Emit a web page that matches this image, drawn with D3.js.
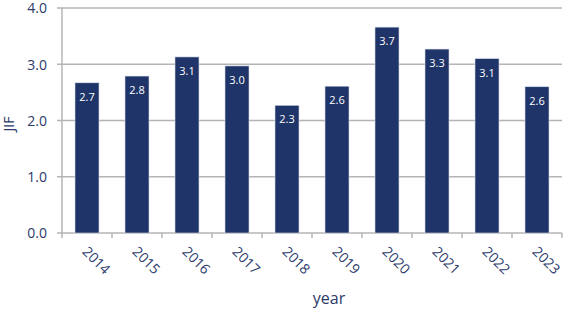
<!DOCTYPE html>
<html>
<head>
<meta charset="utf-8">
<script src="https://cdn.jsdelivr.net/npm/d3@7"></script>
<style>
  body { margin: 0; background: #fff; }
  text { font-family: "Open Sans", sans-serif; fill: #2b3a6b; }
</style>
</head>
<body>
<script>
// Chart data
let years = ["2014", "2015", "2016", "2017", "2018", "2019", "2020", "2021", "2022", "2023"];
let jif = [2.67, 2.79, 3.13, 2.97, 2.27, 2.61, 3.66, 3.27, 3.10, 2.60];
let yTicks = [0, 1, 2, 3, 4];

let width = 567, height = 311;
let margin = {top: 8, right: 5, bottom: 78, left: 62};

let svg = d3.select("body").append("svg")
    .attr("width", width)
    .attr("height", height);

// Scales
let xScale = d3.scaleBand()
    .domain(years)
    .range([margin.left, width - margin.right])
    .paddingInner(0.52)
    .paddingOuter(0.26);
let yScale = d3.scaleLinear()
    .domain([0, 4])
    .range([height - margin.bottom, margin.top]);

let gridColor = "#b4b4b4";

// Horizontal grid lines (with little ticks on the left)
svg.append("g")
  .selectAll("line")
  .data(yTicks)
  .join("line")
    .attr("x1", margin.left - 5)
    .attr("x2", width - margin.right)
    .attr("y1", d => yScale(d))
    .attr("y2", d => yScale(d))
    .attr("stroke", gridColor)
    .attr("stroke-width", 1.5);

// Y axis line
svg.append("line")
    .attr("x1", margin.left).attr("x2", margin.left)
    .attr("y1", yScale(4)).attr("y2", yScale(0))
    .attr("stroke", gridColor)
    .attr("stroke-width", 1.5);

// X axis ticks at band boundaries
let step = xScale.step();
let edges = d3.range(years.length + 1).map(i => margin.left + i * step);
svg.append("g")
  .selectAll("line")
  .data(edges)
  .join("line")
    .attr("x1", d => d).attr("x2", d => d)
    .attr("y1", yScale(0)).attr("y2", yScale(0) + 5)
    .attr("stroke", gridColor)
    .attr("stroke-width", 1.5);

// Y tick labels
svg.append("g")
  .selectAll("text")
  .data(yTicks)
  .join("text")
    .attr("x", margin.left - 15)
    .attr("y", d => yScale(d))
    .attr("dy", "0.38em")
    .attr("text-anchor", "end")
    .style("font-size", "14px")
    .text(d => d.toFixed(1));

// Bars
svg.append("g")
  .selectAll("rect")
  .data(jif)
  .join("rect")
    .attr("x", (d, i) => xScale(years[i]))
    .attr("y", d => yScale(d))
    .attr("width", xScale.bandwidth())
    .attr("height", d => yScale(0) - yScale(d))
    .attr("fill", "#1f3468")
    .attr("stroke", "#d6dbe8")
    .attr("stroke-width", 0.6);

// Value labels inside the bars
svg.append("g")
  .selectAll("text")
  .data(jif)
  .join("text")
    .attr("x", (d, i) => xScale(years[i]) + xScale.bandwidth() / 2)
    .attr("y", d => yScale(d) + 18)
    .attr("text-anchor", "middle")
    .style("font-size", "11px")
    .style("fill", "#ffffff")
    .text(d => d.toFixed(1));

// Rotated year labels
svg.append("g")
  .selectAll("text")
  .data(years)
  .join("text")
    .attr("transform", d => "translate(" + (xScale(d) + xScale.bandwidth() / 2 - 2) + "," + (yScale(0) + 16) + ")rotate(45)")
    .attr("dy", "0.35em")
    .style("font-size", "14px")
    .text(d => d);

// Axis titles
svg.append("text")
    .attr("x", 329)
    .attr("y", 304)
    .attr("text-anchor", "middle")
    .style("font-size", "16px")
    .text("year");

svg.append("text")
    .attr("text-anchor", "middle")
    .attr("transform", "translate(14,124)rotate(-90)")
    .style("font-size", "14px")
    .text("JIF");
</script>
</body>
</html>
